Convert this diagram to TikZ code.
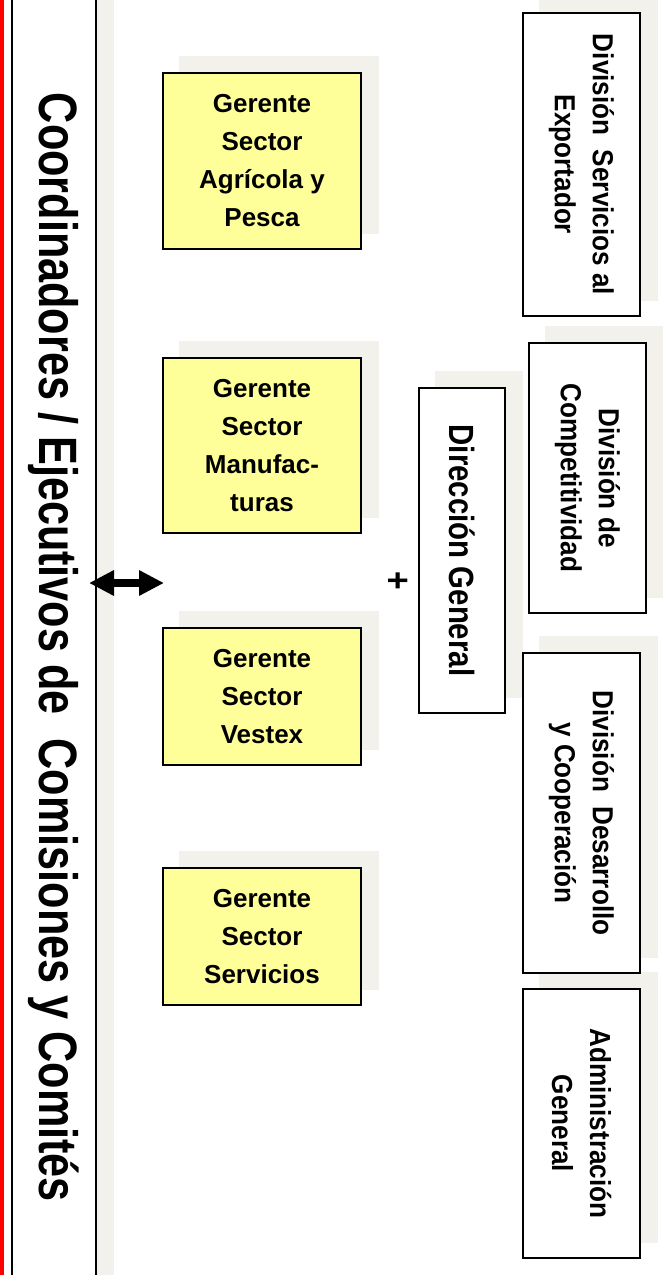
\documentclass[tikz,border=0pt]{standalone}
\usepackage{fontspec}
\setmainfont{Liberation Sans}
\newfontfamily\bandfont[FakeStretch=0.8]{Liberation Sans}
\newfontfamily\dirfont[FakeStretch=0.84]{Liberation Sans}
\newfontfamily\divfont[FakeStretch=0.9]{Liberation Sans}
\usetikzlibrary{arrows.meta,backgrounds}
\definecolor{shgray}{RGB}{242,241,236}
\definecolor{gyellow}{RGB}{255,255,153}
\tikzset{
  gbox/.style={draw,line width=1.5pt,fill=gyellow,minimum width=198pt,inner sep=0pt,align=center,font=\bfseries\fontsize{26}{38}\selectfont},
  dbox/.style={draw,line width=1.5pt,fill=white,rotate=-90,minimum height=117pt,inner sep=0pt,align=center,font=\divfont\bfseries\fontsize{29}{38}\selectfont},
}
\begin{document}
\begin{tikzpicture}[x=1pt,y=-1pt]
  \useasboundingbox (0,0) rectangle (663,1275);
  \path (89,583) coordinate (arrL) (164,583) coordinate (arrR);
  % left band
  \draw[red,line width=4.5pt] (2,-10)--(2,1285);
  \node[draw,line width=1.5pt,fill=white,rotate=-90,minimum width=1400pt,minimum height=84pt,inner sep=0pt,font=\bandfont\bfseries\fontsize{54}{60}\selectfont] (band) at (54,647.5) {Coordinadores / Ejecutivos de\ \ Comisiones y Comités};
  % sector managers
  \foreach \n/\y/\h/\t in {g1/161/176/{Gerente\\Sector\\Agrícola y\\Pesca}, g2/445.5/175/{Gerente\\Sector\\Manufac-\\turas}, g3/696.5/137/{Gerente\\Sector\\Vestex}, g4/936.5/137/{Gerente\\Sector\\Servicios}}{
    \node[gbox,minimum height=\h pt] (\n) at (262,\y) {\t};
  }
  % direction and divisions
  \node[dbox,font=\dirfont\bfseries\fontsize{35}{40}\selectfont,minimum width=325pt,minimum height=86pt] (dir) at (462,550.5) {Dirección General};
  \foreach \n/\x/\y/\h/\t in {srv/581.5/164.5/303/{División\ \ Servicios al\\Exportador}, comp/587.5/478/270/{División de\\Competitividad}, des/581.5/813/320/{División\ \ Desarrollo\\y Cooperación}, adm/581.5/1123.5/269/{Administración\\General}}{
    \node[dbox,minimum width=\h pt] (\n) at (\x,\y) {\t};
  }
  \node[rotate=-90,font=\dirfont\bfseries\fontsize{38}{38}\selectfont] (plus) at (397,581) {+};
  \draw[{Triangle[length=25pt,width=24pt]}-{Triangle[length=25pt,width=24pt]},line width=8.5pt] (arrL)--(arrR);
  % shadows
  \begin{scope}[on background layer]
    \foreach \n in {band,g1,g2,g3,g4,dir,srv,comp,des,adm}
      \fill[shgray] ([shift={(17,-16)}]\n.south west) rectangle ([shift={(17,-16)}]\n.north east);
  \end{scope}
\end{tikzpicture}
\end{document}
